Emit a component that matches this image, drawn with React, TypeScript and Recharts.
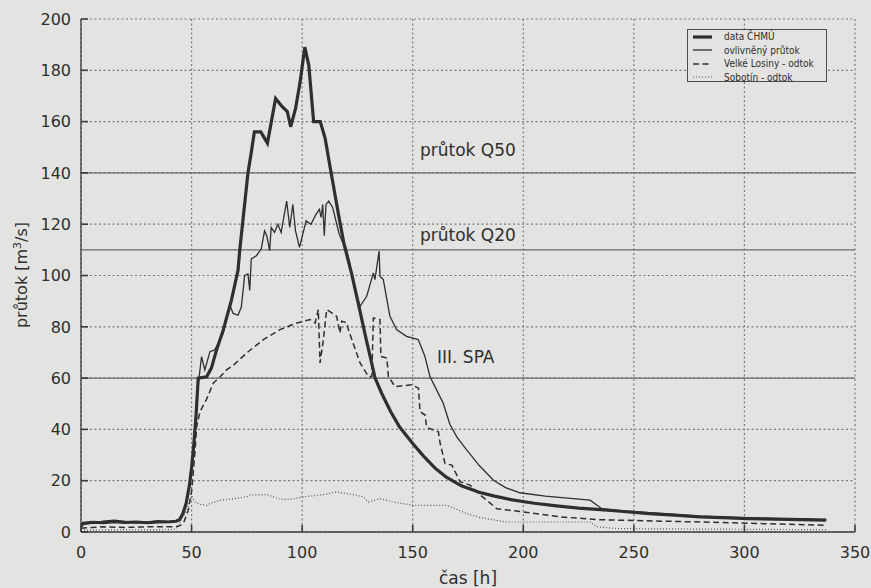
import React from 'react';
import {
  CartesianGrid,
  Legend,
  Line,
  LineChart,
  ReferenceLine,
  XAxis,
  YAxis,
} from 'recharts';

// data ČHMÚ (measured)
const chmuHours = [
  0, 1, 5, 10, 15, 20, 25, 30, 35, 40, 43, 44.5, 46, 47.5, 49, 50, 51, 52, 53,
  56.8, 59, 61.3, 64.3, 68, 71, 71.8, 75.5, 77, 78.4, 81.3, 84.3, 88, 91, 93.3,
  94.8, 97, 99, 101.2, 103, 105.2, 108.2, 110.4, 112.7, 116.4, 119, 122.4,
  125.4, 129, 133, 136, 140, 144, 150, 155, 160, 165, 172, 180, 187, 195, 205,
  215, 225, 235, 244, 257, 270, 280, 290, 302, 320, 337,
];
const chmuFlow = [
  2.5, 3.4, 3.8, 3.6, 4.0, 3.7, 3.9, 3.6, 3.9, 4.0, 4.2, 4.8, 7, 11, 18, 25, 34,
  45, 60, 60.5, 64, 71, 78.7, 90.3, 102, 110, 140, 148, 156, 156, 151.6, 169,
  165.8, 163.9, 158, 165, 175, 189, 182, 160, 160, 153.5, 142, 124, 112, 100.6,
  89, 75, 60, 54, 47, 41, 34.5, 29.5, 25, 21.5, 18, 15.5, 14, 12.5, 11.2, 10.2,
  9.3, 8.7, 8.1, 7.2, 6.5, 5.9, 5.6, 5.2, 4.9, 4.6,
];

// ovlivněný průtok
const affectedHours = [
  0, 1, 5, 10, 15, 20, 25, 30, 35, 40, 43, 44.5, 46, 47.5, 49, 50, 51, 52.3,
  54.5, 56, 58.3, 60.5, 64.3, 67.3, 68.8, 71, 72.5, 74, 75.5, 76.3, 77, 79.3,
  81.5, 83, 84, 85.3, 86, 87.5, 89, 90.5, 93, 94.4, 95.8, 97, 98.8, 101.8, 104,
  106.3, 107.8, 108.6, 109.3, 110, 110.8, 112, 113.8, 116.8, 118.3, 119.8,
  121.3, 123, 126.2, 129.2, 132.2, 132.9, 134.8, 135.2, 136.7, 139.7, 142.7,
  147.2, 152.5, 155.5, 157.8, 160.8, 163.8, 166.8, 170, 174.4, 180, 186.5, 192,
  198.5, 210, 220, 230.2, 235.5, 244, 257, 270, 280, 302, 320, 337,
];
const affectedFlow = [
  1.5, 3.0, 3.4, 4.2, 4.6, 4.1, 3.6, 3.9, 4.4, 4.0, 4.3, 5.0, 7.5, 11.5, 18.5,
  25.5, 35, 52, 68.4, 63.2, 70.3, 71, 77.4, 88.4, 85.2, 84.5, 87.7, 100, 100.6,
  94.2, 106.5, 107.7, 110.3, 117.4, 115.5, 109.7, 118.7, 116.8, 120, 116.8, 129,
  118.7, 127.7, 117.4, 111, 121.3, 120, 123.9, 125.8, 122.6, 127.7, 115.5,
  127.7, 129, 126.5, 116, 113, 111, 105.8, 97.5, 88, 91.9, 101, 98.4, 109.5,
  99.7, 98.4, 84.1, 78.9, 76.3, 75, 68.5, 60.6, 55.4, 50.2, 42, 37, 32, 26,
  20.2, 17.3, 15.3, 14.0, 13.2, 12.4, 9.1, 8.3, 7.5, 6.8, 6.2, 5.5, 5.1, 4.8,
];

// Velké Losiny - odtok
const losinyHours = [
  0, 5, 10, 20, 30, 40, 44, 46.3, 48.5, 50.1, 51.6, 52.3, 53.8, 56.8, 59.8,
  62.9, 65.8, 68.9, 74.9, 82.5, 90, 97.6, 103.6, 105.9, 107.3, 108.1, 109.6,
  111.1, 113.4, 115.6, 117.1, 117.9, 120.2, 120.9, 126.2, 130, 131.5, 132.2,
  135.2, 135.6, 138.3, 139, 142, 149.6, 152.6, 153.3, 155.6, 156.3, 161.6,
  162.4, 164.6, 167.7, 171.4, 175.9, 180.5, 183.5, 188, 200, 216.6, 234.7,
  243.8, 280, 337,
];
const losinyFlow = [
  1.5, 1.8, 2.0, 1.8, 2.0, 2.0, 2.2, 3.3, 8.5, 16.3, 32, 41.1, 46.9, 51.8, 58,
  60.5, 63.2, 65, 69.8, 75, 78.9, 81.5, 82.8, 81.5, 86.7, 65.9, 75, 86.7, 85.4,
  84.1, 77.6, 82.2, 81.5, 78.9, 65.9, 60.6, 60.6, 83.4, 82.8, 68.4, 67.8, 60.6,
  56.7, 57.4, 56.1, 46.9, 45.6, 40.8, 39.1, 34.6, 26.7, 26.1, 19.6, 18.3, 14.4,
  12.4, 9.1, 7.8, 5.9, 4.8, 4.6, 3.9, 2.6,
];

// Sobotín - odtok
const sobotinHours = [
  0, 10, 20, 30, 40, 43, 44, 47.8, 50.1, 51.6, 53.8, 56.8, 58.3, 62.9, 65.9,
  74.9, 76.4, 84, 87, 90, 94.5, 100.5, 109.6, 115.6, 123.2, 127.7, 130, 135.2,
  141.3, 150.3, 165.4, 174.4, 180.5, 192.2, 230.2, 233.2, 243.8, 337,
];
const sobotinFlow = [
  0.7, 0.8, 0.9, 0.8, 0.9, 1.2, 2.6, 8.5, 14.0, 11.7, 10.8, 10.4, 11.1, 12.4,
  12.6, 13.7, 14.4, 14.6, 13.7, 12.8, 12.7, 13.7, 14.6, 15.6, 14.6, 13.7, 11.7,
  13.0, 11.7, 10.4, 10.4, 7.2, 5.6, 3.9, 3.9, 2.0, 1.3, 0.9,
];

const xTicks = [0, 50, 100, 150, 200, 250, 300, 350];
const yTicks = [0, 20, 40, 60, 80, 100, 120, 140, 160, 180, 200];

const limitValues = [140, 110, 60];
const limitLabels = ['průtok Q50', 'průtok Q20', 'III. SPA'];

const seriesNames = [
  'data ČHMÚ',
  'ovlivněný průtok',
  'Velké Losiny - odtok',
  'Sobotín - odtok',
];

const BG = '#e3e3e1';
const INK = '#2f2f2f';
const AXIS = '#3c3c3c';
const FONT = '"DejaVu Sans", sans-serif';
const TICK_LEN = 7;
const X_GAP = 15;
const Y_GAP = 10;

// label placement relative to each threshold line (x offset from plot left, baseline offset)
const limitLabelPos = [
  { dx: 339, dy: -16.5, size: 17 },
  { dx: 339, dy: -9, size: 17 },
  { dx: 356, dy: -15.5, size: 17 },
];

const seriesStyles = [
  { stroke: INK, strokeWidth: 3.2 },
  { stroke: INK, strokeWidth: 1.3 },
  { stroke: INK, strokeWidth: 1.5, strokeDasharray: '6 3.5' },
  { stroke: '#555', strokeWidth: 1.2, strokeDasharray: '1 2' },
];

const toPoints = (hours: number[], flow: number[]) =>
  hours.map((h, i) => ({ h, q: flow[i] }));

const series = [
  toPoints(chmuHours, chmuFlow),
  toPoints(affectedHours, affectedFlow),
  toPoints(losinyHours, losinyFlow),
  toPoints(sobotinHours, sobotinFlow),
];

// gnuplot style ticks: marks point into the plot, labels outside
function BottomTick({ x, y, payload }: any) {
  const axisY = y - X_GAP;
  return (
    <g>
      <line x1={x} x2={x} y1={axisY} y2={axisY - TICK_LEN} stroke={AXIS} strokeWidth={1.6} />
      <text
        x={x}
        y={y}
        dy="0.71em"
        textAnchor="middle"
        fill={INK}
        fontSize={16}
        fontFamily={FONT}
      >
        {payload.value}
      </text>
    </g>
  );
}

function LeftTick({ x, y, payload }: any) {
  const axisX = x + Y_GAP;
  return (
    <g>
      <line x1={axisX} x2={axisX + TICK_LEN} y1={y} y2={y} stroke={AXIS} strokeWidth={1.6} />
      <text
        x={x}
        y={y}
        dy="0.36em"
        textAnchor="end"
        fill={INK}
        fontSize={16}
        fontFamily={FONT}
      >
        {payload.value}
      </text>
    </g>
  );
}

function LimitLabel({ viewBox, text, dx, dy, size }: any) {
  return (
    <text
      x={viewBox.x + dx}
      y={viewBox.y + dy}
      fill={INK}
      fontSize={size}
      fontFamily={FONT}
    >
      {text}
    </text>
  );
}

function XTitle() {
  return (
    <text x={468} y={584} textAnchor="middle" fill={INK} fontSize={17} fontFamily={FONT}>
      čas [h]
    </text>
  );
}

function YTitle() {
  return (
    <text
      x={275}
      y={27}
      transform="rotate(-90 0 0) translate(-550 0)"
      textAnchor="middle"
      fill={INK}
      fontSize={16}
      fontFamily={FONT}
    >
      průtok [m
      <tspan dy={-6} fontSize={11}>
        3
      </tspan>
      <tspan dy={6}>/s]</tspan>
    </text>
  );
}

function LegendBox() {
  return (
    <div
      style={{
        width: 140,
        height: 53,
        boxSizing: 'border-box',
        border: '1px solid #4a4a4a',
        background: BG,
        fontFamily: '"DejaVu Sans Condensed", "DejaVu Sans", sans-serif',
        fontSize: 10,
        color: INK,
      }}
    >
      {seriesNames.map((name, i) => (
        <div
          key={name}
          style={{ display: 'flex', alignItems: 'center', height: 13.5 }}
        >
          <svg width={36} height={8} style={{ flex: 'none' }}>
            <line x1={5} x2={24} y1={4} y2={4} {...seriesStyles[i]} />
          </svg>
          <span style={{ whiteSpace: 'nowrap' }}>{name}</span>
        </div>
      ))}
    </div>
  );
}

export default function App() {
  return (
    <div
      style={{
        position: 'absolute',
        left: 0,
        top: 0,
        width: 871,
        height: 588,
        background: BG,
      }}
    >
      <LineChart
        width={871}
        height={588}
        data={series[0]}
        margin={{ top: 19, right: 16, bottom: 16, left: 23 }}
      >
        <CartesianGrid stroke="#7a7a7a" strokeWidth={1.2} strokeDasharray="2 2.5" />
        <XAxis
          dataKey="h"
          type="number"
          domain={[0, 350]}
          ticks={xTicks}
          allowDataOverflow
          height={40}
          tickSize={0}
          tickMargin={X_GAP}
          tickLine={false}
          stroke={AXIS}
          strokeWidth={1.3}
          tick={<BottomTick />}
          label={<XTitle />}
        />
        <XAxis
          xAxisId="top"
          orientation="top"
          type="number"
          domain={[0, 350]}
          ticks={xTicks}
          allowDataOverflow
          height={0}
          tick={false}
          tickSize={-TICK_LEN}
          tickLine={{ stroke: AXIS, strokeWidth: 1.6 }}
          stroke={AXIS}
          strokeWidth={1.3}
        />
        <YAxis
          type="number"
          domain={[0, 200]}
          ticks={yTicks}
          allowDataOverflow
          width={58}
          tickSize={0}
          tickMargin={Y_GAP}
          tickLine={false}
          stroke={AXIS}
          strokeWidth={1.3}
          tick={<LeftTick />}
          label={<YTitle />}
        />
        <YAxis
          yAxisId="right"
          orientation="right"
          type="number"
          domain={[0, 200]}
          ticks={yTicks}
          allowDataOverflow
          width={0}
          tick={false}
          tickSize={-TICK_LEN}
          tickLine={{ stroke: AXIS, strokeWidth: 1.6 }}
          stroke={AXIS}
          strokeWidth={1.3}
        />
        {limitValues.map((v, i) => (
          <ReferenceLine
            key={v}
            y={v}
            stroke="#6a6a6a"
            strokeWidth={1.2}
            label={<LimitLabel text={limitLabels[i]} {...limitLabelPos[i]} />}
          />
        ))}
        <Legend
          content={<LegendBox />}
          layout="horizontal"
          align="center"
          verticalAlign="middle"
          wrapperStyle={{ left: 687, top: 29, width: 140 }}
        />
        {series.map((pts, i) => (
          <Line
            key={seriesNames[i]}
            data={pts}
            dataKey="q"
            name={seriesNames[i]}
            type="linear"
            dot={false}
            activeDot={false}
            isAnimationActive={false}
            {...seriesStyles[i]}
          />
        ))}
      </LineChart>
    </div>
  );
}
